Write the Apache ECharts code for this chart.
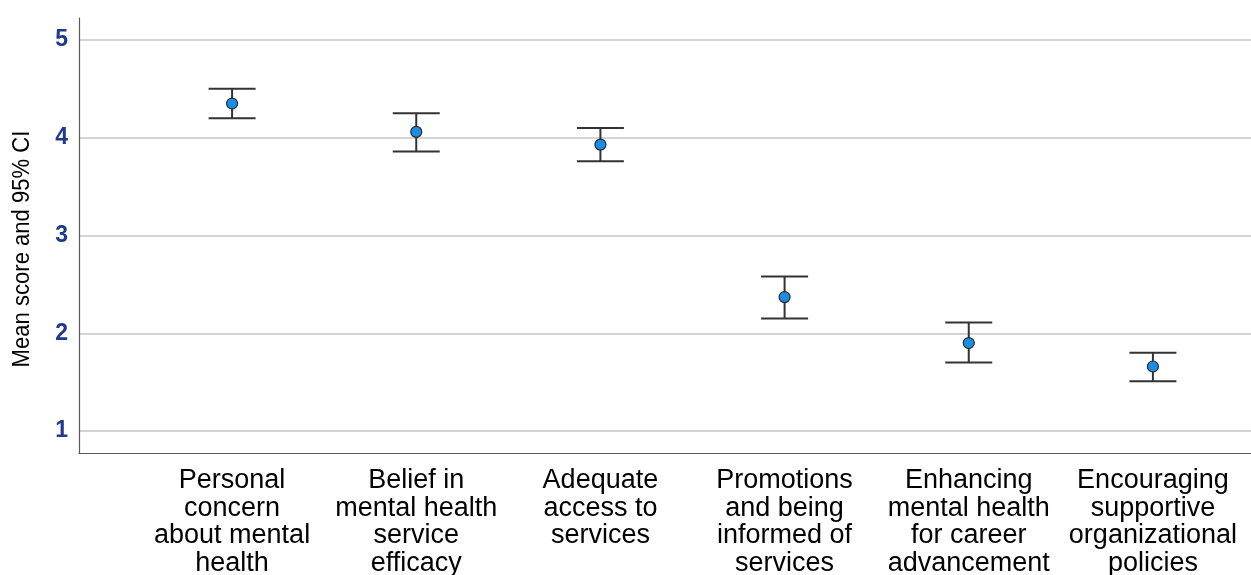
<!DOCTYPE html>
<html>
<head>
<meta charset="utf-8">
<title>Mean score and 95% CI</title>
<script src="https://cdn.jsdelivr.net/npm/echarts@6/dist/echarts.min.js"></script>
<style>
  html, body { margin: 0; padding: 0; background: #ffffff; }
  #chart { width: 1251px; height: 575px; }
</style>
</head>
<body>
<div id="chart"></div>
<script>
// Survey items shown along the horizontal axis
const categories = [
  'Personal\nconcern\nabout mental\nhealth',
  'Belief in\nmental health\nservice\nefficacy',
  'Adequate\naccess to\nservices',
  'Promotions\nand being\ninformed of\nservices',
  'Enhancing\nmental health\nfor career\nadvancement',
  'Encouraging\nsupportive\norganizational\npolicies'
];

// Mean score per item with the lower and upper 95% confidence limits
const means = [4.35, 4.06, 3.93, 2.37, 1.90, 1.66];
const ciLower = [4.20, 3.86, 3.76, 2.15, 1.70, 1.51];
const ciUpper = [4.50, 4.25, 4.10, 2.58, 2.11, 1.80];

// Value range of the score axis
const yMin = 0.775;
const yMax = 5.225;

const FONT = '"Liberation Sans", Arial, Helvetica, sans-serif';
const barData = categories.map((c, i) => [i, ciLower[i], ciUpper[i]]);
const pointData = categories.map((c, i) => [i, means[i]]);

const chart = echarts.init(document.getElementById('chart'), null, { renderer: 'canvas' });

chart.setOption({
  backgroundColor: '#ffffff',
  animation: false,
  grid: [
    // frame, gridlines and score labels
    { left: 79, right: 0, top: 18, bottom: 122, containLabel: false, outerBoundsMode: 'none' },
    // item positions
    { left: 140, right: 6, top: 18, bottom: 122, containLabel: false, outerBoundsMode: 'none' }
  ],
  xAxis: [
    {
      type: 'value', gridIndex: 0, min: 0, max: 1,
      axisLine: { show: true, lineStyle: { color: '#5a5a5a', width: 1.2 } },
      axisTick: { show: false },
      axisLabel: { show: false },
      splitLine: { show: false }
    },
    {
      type: 'category', gridIndex: 1, data: categories,
      axisLine: { show: false },
      axisTick: { show: false },
      splitLine: { show: false },
      axisLabel: {
        interval: 0,
        margin: 13.5,
        color: '#000000',
        fontFamily: FONT,
        fontSize: 27,
        lineHeight: 27.7,
        align: 'center'
      }
    }
  ],
  yAxis: [
    {
      type: 'value', gridIndex: 0, min: yMin, max: yMax, splitNumber: 5,
      axisLine: { show: true, lineStyle: { color: '#5a5a5a', width: 1.2 } },
      axisTick: { show: false },
      axisLabel: {
        margin: 11,
        color: '#1f3a8c',
        fontFamily: FONT,
        fontSize: 23,
        fontWeight: 'bold',
        showMinLabel: false,
        showMaxLabel: false,
        formatter: v => (Number.isInteger(v) ? String(v) : '')
      },
      splitLine: {
        show: true,
        showMinLine: false,
        showMaxLine: false,
        lineStyle: { color: '#d4d4d4', width: 2 }
      }
    },
    {
      type: 'value', gridIndex: 1, min: yMin, max: yMax,
      axisLine: { show: false },
      axisTick: { show: false },
      axisLabel: { show: false },
      splitLine: { show: false }
    }
  ],
  graphic: [
    {
      // vertical axis title, slightly condensed
      type: 'text',
      x: 23,
      y: 249,
      rotation: Math.PI / 2,
      scaleX: 0.96,
      style: {
        text: 'Mean score and 95% CI',
        font: '23px ' + FONT,
        fill: '#000000',
        textAlign: 'center',
        textVerticalAlign: 'middle'
      }
    }
  ],
  series: [
    {
      // confidence interval whiskers with end caps
      type: 'custom',
      xAxisIndex: 1,
      yAxisIndex: 1,
      data: barData,
      z: 2,
      renderItem: function (params, api) {
        const idx = api.value(0);
        const lo = api.coord([idx, api.value(1)]);
        const hi = api.coord([idx, api.value(2)]);
        const half = 23.5;
        const style = { stroke: '#333333', lineWidth: 2 };
        return {
          type: 'group',
          children: [
            { type: 'line', shape: { x1: lo[0], y1: lo[1], x2: hi[0], y2: hi[1] }, style: style },
            { type: 'line', shape: { x1: hi[0] - half, y1: hi[1], x2: hi[0] + half, y2: hi[1] }, style: style },
            { type: 'line', shape: { x1: lo[0] - half, y1: lo[1], x2: lo[0] + half, y2: lo[1] }, style: style }
          ]
        };
      }
    },
    {
      // mean score markers
      type: 'scatter',
      xAxisIndex: 1,
      yAxisIndex: 1,
      data: pointData,
      z: 3,
      symbol: 'circle',
      symbolSize: 11,
      itemStyle: { color: '#1a8de6', borderColor: '#2a2a2a', borderWidth: 1.2, opacity: 1 }
    }
  ]
});
</script>
</body>
</html>
